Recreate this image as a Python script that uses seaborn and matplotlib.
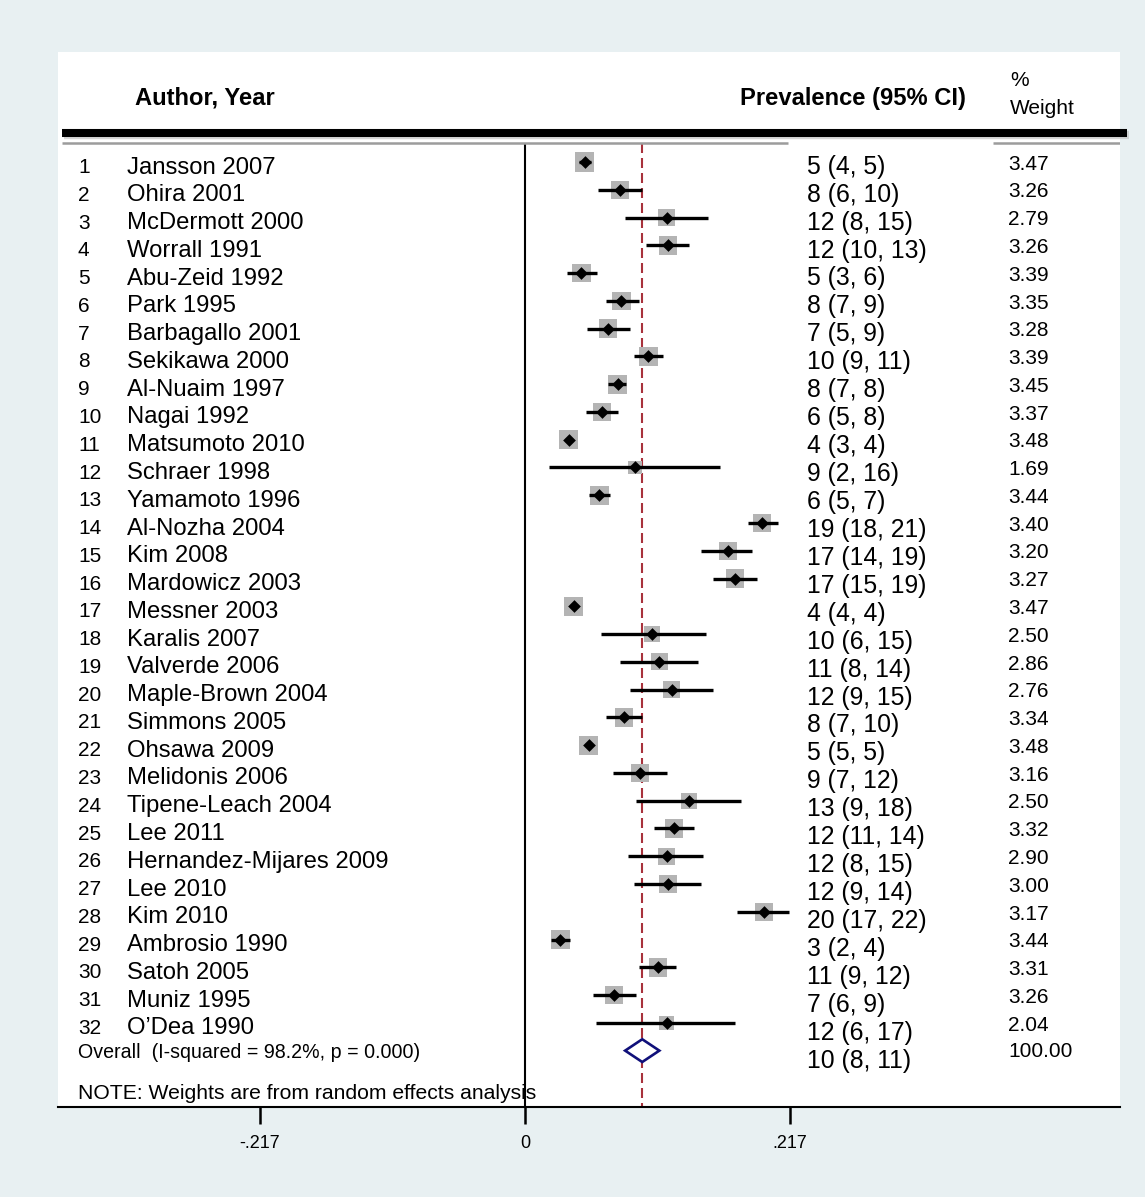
import numpy as np
import pandas as pd
import matplotlib
matplotlib.use("Agg")
import matplotlib.pyplot as plt
import matplotlib.transforms as mtransforms
import seaborn as sns

# ---- study data (prevalence in %, 95% CI, random-effects weight) ----
authors = [
    "Jansson 2007", "Ohira 2001", "McDermott 2000", "Worrall 1991",
    "Abu-Zeid 1992", "Park 1995", "Barbagallo 2001", "Sekikawa 2000",
    "Al-Nuaim 1997", "Nagai 1992", "Matsumoto 2010", "Schraer 1998",
    "Yamamoto 1996", "Al-Nozha 2004", "Kim 2008", "Mardowicz 2003",
    "Messner 2003", "Karalis 2007", "Valverde 2006", "Maple-Brown 2004",
    "Simmons 2005", "Ohsawa 2009", "Melidonis 2006", "Tipene-Leach 2004",
    "Lee 2011", "Hernandez-Mijares 2009", "Lee 2010", "Kim 2010",
    "Ambrosio 1990", "Satoh 2005", "Muniz 1995", "O\u2019Dea 1990",
]
prevalence = [4.9, 7.8, 11.6, 11.7, 4.6, 7.9, 6.8, 10.1, 7.6, 6.3, 3.6, 9.0,
              6.1, 19.4, 16.6, 17.2, 4.0, 10.4, 11.0, 12.0, 8.1, 5.2, 9.4, 13.4,
              12.2, 11.6, 11.7, 19.6, 2.9, 10.9, 7.3, 11.6]
ci_lower = [4.4, 6.0, 8.2, 9.9, 3.4, 6.6, 5.1, 8.9, 6.8, 5.0, 3.3, 2.0,
            5.2, 18.3, 14.4, 15.4, 3.7, 6.2, 7.8, 8.6, 6.6, 4.9, 7.2, 9.1,
            10.6, 8.4, 8.9, 17.4, 2.1, 9.3, 5.6, 5.8]
ci_upper = [5.4, 9.6, 15.0, 13.4, 5.9, 9.3, 8.6, 11.3, 8.3, 7.6, 3.9, 16.0,
            7.0, 20.7, 18.6, 19.0, 4.3, 14.8, 14.2, 15.4, 9.6, 5.4, 11.6, 17.7,
            13.8, 14.6, 14.4, 21.6, 3.7, 12.4, 9.1, 17.2]
weights = [3.47, 3.26, 2.79, 3.26, 3.39, 3.35, 3.28, 3.39, 3.45, 3.37, 3.48, 1.69,
           3.44, 3.40, 3.20, 3.27, 3.47, 2.50, 2.86, 2.76, 3.34, 3.48, 3.16, 2.50,
           3.32, 2.90, 3.00, 3.17, 3.44, 3.31, 3.26, 2.04]

overall_est, overall_lo, overall_hi = 9.6, 8.2, 11.0
overall_weight = "100.00"
overall_label = "Overall  (I-squared = 98.2%, p = 0.000)"
note_label = "NOTE: Weights are from random effects analysis"

tick_values = [-0.217, 0.0, 0.217]
tick_labels = ["-.217", "0", ".217"]


def r0(v):
    return int(np.floor(v + 0.5))


df = pd.DataFrame({
    "author": authors,
    "row": np.arange(len(authors)),
    "est": np.array(prevalence) / 100,
    "lo": np.array(ci_lower) / 100,
    "hi": np.array(ci_upper) / 100,
    "weight": weights,
})
df["ci_text"] = [f"{r0(p)} ({r0(l)}, {r0(h)})"
                 for p, l, h in zip(prevalence, ci_lower, ci_upper)]

# ---- figure & style ----
sns.set_style("white")
plt.rcParams["font.family"] = ["Liberation Sans", "DejaVu Sans"]
plt.rcParams["text.color"] = "black"
plt.rcParams["xtick.color"] = "black"

W, H = 1145, 1197
fig = plt.figure(figsize=(W / 100, H / 100), dpi=100, facecolor="#e8f0f2")
ax_l, ax_r, ax_t, ax_b = 58, 1120, 52, 1107
ax = fig.add_axes([ax_l / W, 1 - ax_b / H, (ax_r - ax_l) / W, (ax_b - ax_t) / H])
ax.set_facecolor("white")

x_left = (ax_l - 525) / 265 * 0.217
x_right = (ax_r - 525) / 265 * 0.217
y_top, y_bot = -3.961, 34.03

# ---- reference lines ----
line_top = -0.68
ax.vlines(0, line_top, y_bot, color="black", lw=1.5, zorder=2)
ax.vlines(overall_est / 100, line_top, y_bot, color="#a8323c", lw=1.5,
          linestyles=(0, (4.8, 2.4)), zorder=2)

# ---- study markers ----
sns.scatterplot(data=df, x="est", y="row", size="weight",
                sizes=(54 * 1.69, 54 * 3.48), size_norm=(1.69, 3.48),
                marker="s", color="#b4b4b4", linewidth=0, legend=False,
                ax=ax, zorder=3)
ax.hlines(df["row"], df["lo"], df["hi"], color="black", lw=2.4, zorder=4)
sns.scatterplot(data=df, x="est", y="row", marker="D", s=42, color="black",
                linewidth=0, legend=False, ax=ax, zorder=5)

# ---- pooled estimate diamond ----
n = len(df)
hh = 0.41
ax.fill([overall_lo / 100, overall_est / 100, overall_hi / 100, overall_est / 100],
        [n, n - hh, n, n + hh], facecolor="white", edgecolor="#10107a",
        lw=1.9, zorder=6)

# ---- axes ----
ax.set_xlim(x_left, x_right)
ax.set_ylim(y_bot, y_top)
for s in ["top", "left", "right"]:
    ax.spines[s].set_visible(False)
ax.spines["bottom"].set_linewidth(1.5)
ax.spines["bottom"].set_color("black")
ax.set_yticks([])
ax.set_xticks(tick_values)
ax.set_xticklabels(tick_labels, fontsize=13)
ax.tick_params(axis="x", bottom=True, direction="out", length=12, width=1.8,
               pad=8, colors="black")
ax.set_xlabel("")
ax.set_ylabel("")

# ---- text columns ----
tr = mtransforms.blended_transform_factory(ax.transAxes, ax.transData)


def fx(px):
    return (px - ax_l) / (ax_r - ax_l)


txt = dict(transform=tr, va="center", ha="left", color="black")

for i, row in df.iterrows():
    ax.text(fx(78), i + 0.2, str(i + 1), fontsize=15, **txt)
    ax.text(fx(127), i + 0.2, row["author"], fontsize=17.2, **txt)
    ax.text(fx(807), i * 1.006 + 0.17, row["ci_text"], fontsize=17.8, **txt)
    ax.text(fx(1008), i + 0.08, f"{row['weight']:.2f}", fontsize=15, **txt)

ax.text(fx(78), n + 0.05, overall_label, fontsize=14.1, **txt)
ax.text(fx(807), n * 1.006 + 0.17,
        f"{r0(overall_est)} ({r0(overall_lo)}, {r0(overall_hi)})",
        fontsize=17.8, **txt)
ax.text(fx(1008), n + 0.03, overall_weight, fontsize=15, **txt)
ax.text(fx(78), 33.55, note_label, fontsize=15.2, zorder=1, **txt)

# ---- header ----
ax.text(fx(135), -2.3, "Author, Year", fontsize=17.1, fontweight="bold", **txt)
ax.text(fx(740), -2.3, "Prevalence (95% CI)", fontsize=17.1, fontweight="bold", **txt)
ax.text(fx(1010), -2.95, "%", fontsize=15, **txt)
ax.text(fx(1010), -1.94, "Weight", fontsize=15, **txt)

ax.plot([fx(64), fx(1129)], [-0.98, -0.98], transform=tr, color="#bdbdbd",
        lw=6, solid_capstyle="butt", clip_on=False, zorder=1, alpha=0.6)
ax.plot([fx(62), fx(1127)], [-1.04, -1.04], transform=tr, color="black",
        lw=5.8, solid_capstyle="butt", clip_on=False, zorder=2)
ax.plot([fx(62), fx(788)], [-0.68, -0.68], transform=tr, color="#9c9c9c",
        lw=1.8, solid_capstyle="butt", zorder=2)
ax.plot([fx(993), fx(1120)], [-0.68, -0.68], transform=tr, color="#9c9c9c",
        lw=1.8, solid_capstyle="butt", zorder=2)

fig.savefig("out.png", dpi=100, facecolor=fig.get_facecolor())
